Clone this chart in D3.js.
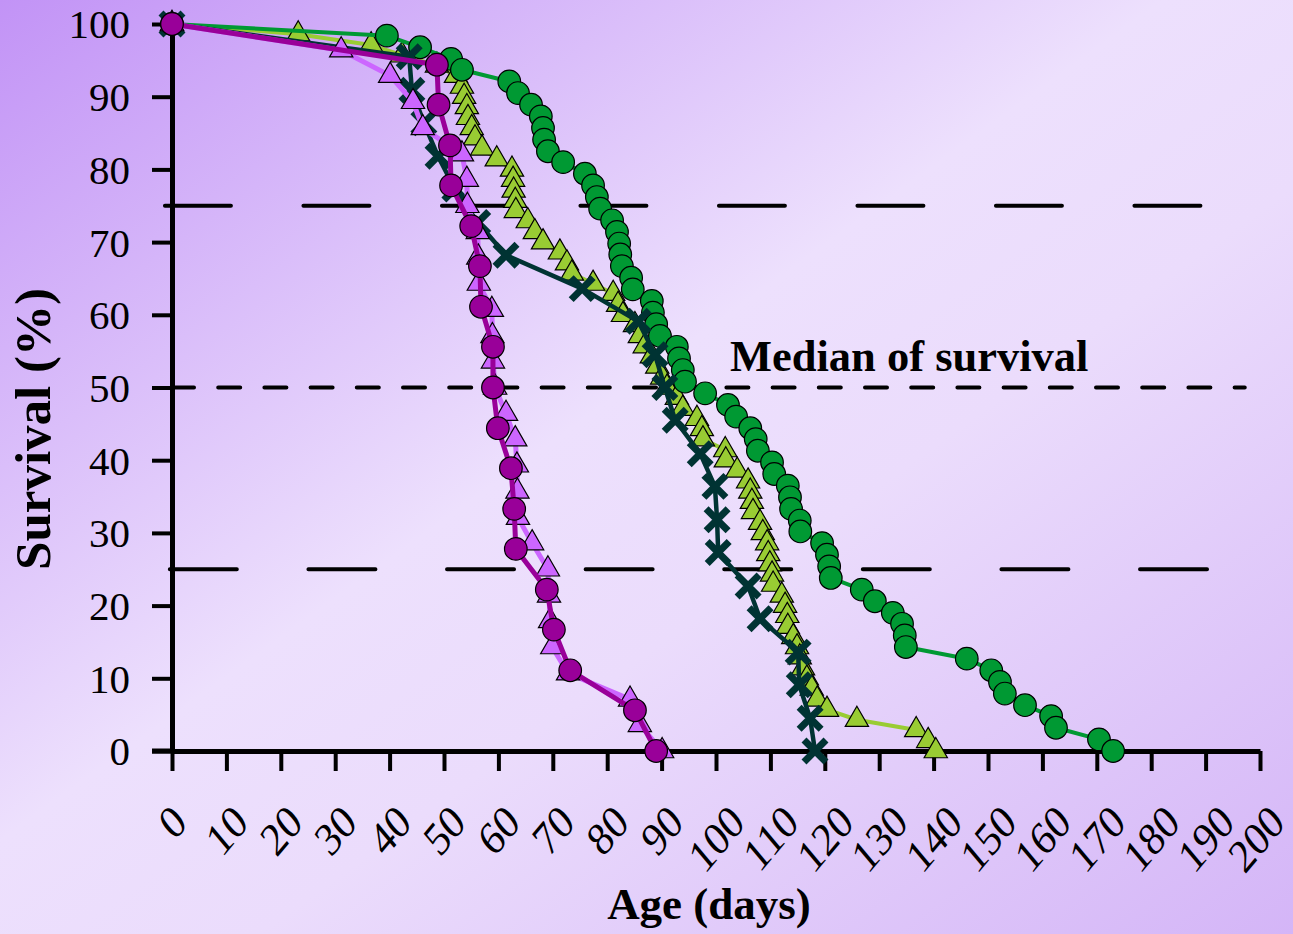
<!DOCTYPE html>
<meta charset="utf-8">
<style>
body { margin: 0; }
svg { display: block; font-family: "Liberation Serif", "Times New Roman", serif; }
.axis path, .axis line { stroke: #000; }
</style>
<body>
<svg width="1293" height="934"></svg>
<script src="https://cdnjs.cloudflare.com/ajax/libs/d3/7.8.5/d3.min.js"></script>
<script>
// survival curves
const greenCircleDays = [0, 39.5, 45.6, 51.3, 53.3, 62.0, 63.6, 66.0, 67.8, 68.2, 68.4, 69.1, 71.9, 75.9, 77.4, 78.1, 78.7, 80.9, 81.8, 82.2, 82.4, 82.7, 84.4, 84.7, 88.2, 88.4, 89.0, 89.7, 92.8, 93.2, 93.9, 94.3, 98.0, 102.2, 103.7, 106.3, 107.3, 107.7, 110.3, 110.7, 113.2, 113.6, 113.8, 115.4, 115.5, 119.5, 120.4, 120.8, 121.1, 126.8, 129.2, 132.5, 134.2, 134.7, 134.9, 146.1, 150.6, 152.2, 153.1, 156.8, 161.6, 162.5, 170.4, 173.0]
const greenCircleSurv = [100, 98.4, 96.8, 95.2, 93.7, 92.1, 90.5, 88.9, 87.3, 85.7, 84.1, 82.5, 81.0, 79.4, 77.8, 76.2, 74.6, 73.0, 71.4, 69.8, 68.3, 66.7, 65.1, 63.5, 61.9, 60.3, 58.7, 57.1, 55.6, 54.0, 52.4, 50.8, 49.2, 47.6, 46.0, 44.4, 42.9, 41.3, 39.7, 38.1, 36.5, 34.9, 33.3, 31.7, 30.2, 28.6, 27.0, 25.4, 23.8, 22.2, 20.6, 19.0, 17.5, 15.9, 14.3, 12.7, 11.1, 9.5, 7.9, 6.3, 4.8, 3.2, 1.6, 0]

const limeTriDays = [0, 23.2, 36.6, 42.3, 48.7, 52.2, 53.3, 53.7, 54.2, 54.4, 55.1, 55.7, 57.0, 59.7, 62.5, 62.7, 62.8, 63.1, 63.2, 65.4, 66.7, 68.2, 71.3, 72.6, 73.5, 77.4, 81.1, 82.0, 82.9, 85.1, 86.0, 86.9, 88.2, 89.2, 90.1, 91.0, 92.8, 93.9, 96.5, 97.4, 97.6, 101.7, 101.8, 103.9, 105.9, 106.3, 106.6, 106.8, 108.1, 108.6, 109.4, 109.6, 109.9, 110.3, 110.5, 112.1, 112.7, 113.1, 113.2, 114.2, 114.9, 115.4, 116.0, 116.7, 117.6, 118.6, 120.4, 125.9, 136.8, 139.0, 140.4]
const limeTriSurv = [100, 98.6, 97.1, 95.7, 94.3, 92.9, 91.4, 90.0, 88.6, 87.1, 85.7, 84.3, 82.9, 81.4, 80.0, 78.6, 77.1, 75.7, 74.3, 72.9, 71.4, 70.0, 68.6, 67.1, 65.7, 64.3, 62.9, 61.4, 60.0, 58.6, 57.1, 55.7, 54.3, 52.9, 51.4, 50.0, 48.6, 47.1, 45.7, 44.3, 42.9, 41.4, 40.0, 38.6, 37.1, 35.7, 34.3, 32.9, 31.4, 30.0, 28.6, 27.1, 25.7, 24.3, 22.9, 21.4, 20.0, 18.6, 17.1, 15.7, 14.3, 12.9, 11.4, 10.0, 8.6, 7.1, 5.7, 4.3, 2.9, 1.4, 0]

const darkCrossDays = [0, 43.6, 44.1, 46.3, 48.9, 52.0, 56.2, 61.4, 75.4, 85.7, 88.8, 90.6, 92.5, 97.1, 99.8, 100.2, 100.4, 105.9, 108.1, 115.1, 115.3, 117.3, 118.2]
const darkCrossSurv = [100, 95.5, 90.9, 86.4, 81.8, 77.3, 72.7, 68.2, 63.6, 59.1, 54.5, 50.0, 45.5, 40.9, 36.4, 31.8, 27.3, 22.7, 18.2, 13.6, 9.1, 4.5, 0]

const violetTriDays = [0, 31.1, 40.1, 44.3, 46.1, 53.3, 54.2, 54.3, 56.2, 56.3, 56.4, 58.8, 58.9, 59.0, 59.4, 61.4, 63.1, 63.4, 63.5, 63.6, 66.2, 69.1, 69.3, 69.5, 69.9, 72.8, 84.2, 86.0, 90.1]
const violetTriSurv = [100, 96.4, 92.9, 89.3, 85.7, 82.1, 78.6, 75.0, 71.4, 67.9, 64.3, 60.7, 57.1, 53.6, 50.0, 46.4, 42.9, 39.3, 35.7, 32.1, 28.6, 25.0, 21.4, 17.9, 14.3, 10.7, 7.1, 3.6, 0]

const purpleCircleDays = [0, 48.7, 49.0, 51.1, 51.3, 55.0, 56.6, 56.8, 59.0, 59.0, 59.9, 62.3, 62.9, 63.2, 68.9, 70.2, 73.2, 85.1, 89.0]
const purpleCircleSurv = [100, 94.4, 88.9, 83.3, 77.8, 72.2, 66.7, 61.1, 55.6, 50.0, 44.4, 38.9, 33.3, 27.8, 22.2, 16.7, 11.1, 5.6, 0]

const xTicks = d3.range(0, 201, 10)
const yTicks = d3.range(0, 101, 10)

window.onload = () => {
  const svg = d3.select("svg")
  const W = 1293, H = 934

  // background
  const grad = svg.append("defs").append("linearGradient")
    .attr("id", "bg").attr("x1", 0).attr("y1", 0).attr("x2", 1).attr("y2", 1)
  grad.append("stop").attr("offset", 0).attr("stop-color", "#c293f6")
  grad.append("stop").attr("offset", 0.45).attr("stop-color", "#ede0fd")
  grad.append("stop").attr("offset", 0.6).attr("stop-color", "#ebdcfc")
  grad.append("stop").attr("offset", 1).attr("stop-color", "#d4b5f7")
  svg.append("rect").attr("width", W).attr("height", H).attr("fill", "url(#bg)")

  const x = d3.scaleLinear().domain([0, 200]).range([172, 1260])
  const y = d3.scaleLinear().domain([0, 100]).range([751, 24])

  // reference lines (quartiles + median)
  const refLines = [
    {v: 75, from: -1.3, to: 189.9, dash: "66 72.5"},
    {v: 25, from: -0.4, to: 191.0, dash: "67 71.6"},
    {v: 50, from: 0, to: 197.2, dash: "22 24.2"}
  ]
  svg.append("g").selectAll("line").data(refLines).join("line")
    .attr("x1", d => x(d.from)).attr("x2", d => x(d.to))
    .attr("y1", d => y(d.v)).attr("y2", d => y(d.v))
    .attr("stroke", "#000").attr("stroke-width", 4)
    .attr("stroke-linecap", "round")
    .attr("stroke-dasharray", d => d.dash)

  svg.append("text")
    .attr("x", 730).attr("y", 371)
    .attr("font-size", 44.5).attr("font-weight", "bold")
    .text("Median of survival")

  // axes
  const yAxis = svg.append("g").attr("class", "axis").attr("transform", `translate(${x(0)},0)`)
  yAxis.call(d3.axisLeft(y).tickValues(d3.range(5, 100, 10)).tickSize(10).tickFormat(""))
  yAxis.call(d3.axisLeft(y).tickValues(yTicks).tickSize(20).tickSizeOuter(0).tickPadding(22).tickFormat(d3.format("d")))
  yAxis.selectAll("line").attr("stroke-width", 4)
  yAxis.selectAll(".domain").attr("stroke-width", 5)
  yAxis.selectAll("text").attr("font-size", 41).attr("font-family", "Liberation Serif, serif").attr("dy", "0.34em")

  const xAxis = svg.append("g").attr("class", "axis").attr("transform", `translate(0,${y(0)})`)
  xAxis.call(d3.axisBottom(x).tickValues(d3.range(5, 200, 10)).tickSize(10).tickFormat(""))
  xAxis.call(d3.axisBottom(x).tickValues(xTicks).tickSize(20).tickSizeOuter(0).tickFormat(""))
  xAxis.selectAll("line").attr("stroke-width", 4)
  xAxis.selectAll(".domain").attr("stroke-width", 5)
  // little stub so the axes meet like the picture
  svg.append("line").attr("x1", x(0) - 20).attr("x2", x(0)).attr("y1", y(0)).attr("y2", y(0))
    .attr("stroke", "#000").attr("stroke-width", 5)

  // rotated x labels, bounding-box top aligned
  const xl = svg.append("g")
  xTicks.forEach(t => {
    const tx = xl.append("text")
      .attr("font-size", 43)
      .attr("text-anchor", "middle")
      .attr("dominant-baseline", "central")
      .text(t)
    const w = tx.node().getComputedTextLength()
    const cy = 802 + 1.1 * 0.3535 * (w + 29)
    const cx = t == 200 ? x(t) - 4 : x(t)
    tx.attr("transform", `translate(${cx},${cy}) scale(0.92,1.1) rotate(-45)`)
  })

  svg.append("text")
    .attr("x", 709).attr("y", 919)
    .attr("text-anchor", "middle")
    .attr("font-size", 45).attr("font-weight", "bold")
    .text("Age (days)")

  svg.append("text")
    .attr("transform", "translate(50,429) rotate(-90)")
    .attr("text-anchor", "middle")
    .attr("font-size", 51).attr("font-weight", "bold")
    .text("Survival (%)")

  // series
  const series = [
    {days: limeTriDays, surv: limeTriSurv, color: "#99cc33", lw: 4, marker: "tri"},
    {days: greenCircleDays, surv: greenCircleSurv, color: "#009933", lw: 4, marker: "circle"},
    {days: darkCrossDays, surv: darkCrossSurv, color: "#003333", lw: 4.5, marker: "cross"},
    {days: violetTriDays, surv: violetTriSurv, color: "#cc66ff", lw: 5, marker: "tri"},
    {days: purpleCircleDays, surv: purpleCircleSurv, color: "#990099", lw: 5, marker: "circle"}
  ]

  const line = d3.line().x(d => x(d[0])).y(d => y(d[1]))
  const tri = d3.symbol().type(d3.symbolTriangle).size(235)

  series.forEach(s => {
    const pts = s.days.map((d, i) => [d, s.surv[i]])
    const g = svg.append("g")
    g.append("path").datum(pts)
      .attr("d", line)
      .attr("fill", "none")
      .attr("stroke", s.color)
      .attr("stroke-width", s.lw)
      .attr("stroke-linejoin", "round")

    const m = g.selectAll(".m").data(pts).join("g")
      .attr("class", "m")
      .attr("transform", d => `translate(${x(d[0])},${y(d[1])})`)
    if (s.marker == "circle") {
      m.append("circle").attr("r", 11.3).attr("fill", s.color)
        .attr("stroke", "#000").attr("stroke-width", 1.2)
    } else if (s.marker == "tri") {
      m.append("path").attr("d", tri).attr("fill", s.color)
        .attr("stroke", "#000").attr("stroke-width", 1.2)
    } else {
      m.append("path").attr("d", "M-11,-11L11,11M-11,11L11,-11")
        .attr("stroke", s.color).attr("stroke-width", 7)
    }
  })
}
</script>
</body>
